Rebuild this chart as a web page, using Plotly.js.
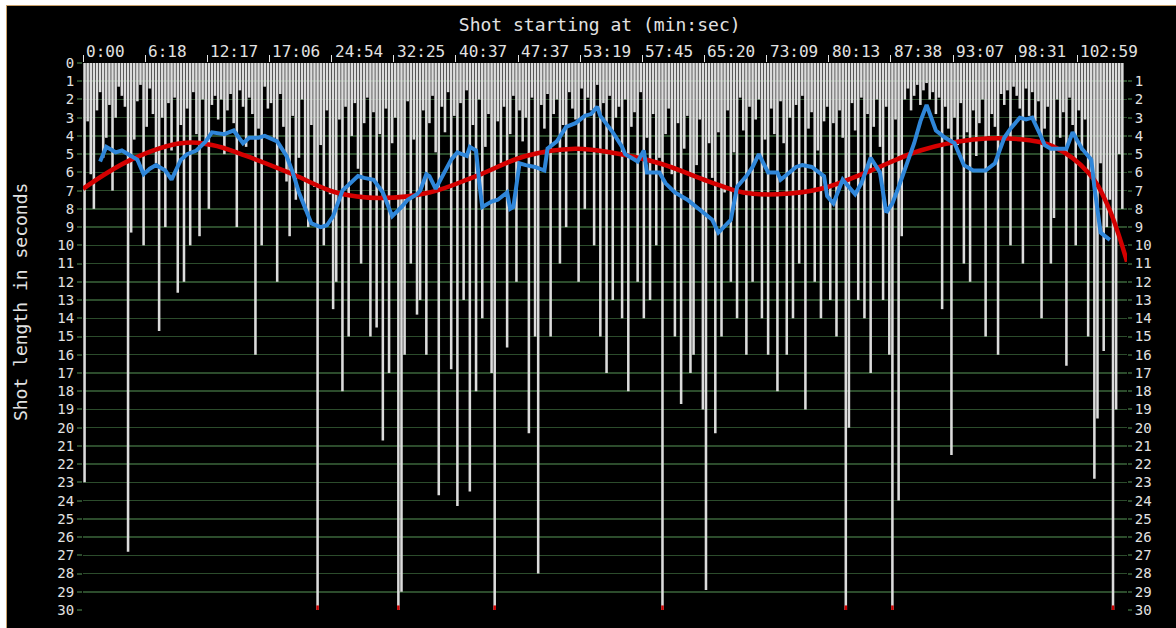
<!DOCTYPE html>
<html>
<head>
<meta charset="utf-8">
<script src="https://cdn.plot.ly/plotly-3.0.1.min.js"></script>
<style>
  html, body { margin: 0; padding: 0; background: #ffffff; width: 1176px; height: 628px; overflow: hidden; }
  #wrap { position: absolute; left: 6px; top: 5px; border-left: 1px solid #c9a06a; border-top: 1px solid #c9a06a; background: #000; }
  #chart { width: 1169px; height: 622px; }
</style>
</head>
<body>
<div id="wrap"><div id="chart"></div></div>
<script>
// ---- data ----
const tickShotIndex = [0, 20, 40, 60, 80, 100, 120, 140, 160, 180, 200, 220, 240, 260, 280, 300, 320];
const tickLabels = ["0:00", "6:18", "12:17", "17:06", "24:54", "32:25", "40:37", "47:37", "53:19",
                    "57:45", "65:20", "73:09", "80:13", "87:38", "93:07", "98:31", "102:59"];

const shotLengths = [
  23, 3.2, 6.1, 8.0, 2.6, 1.6, 5.2, 4.1, 2.3, 7.0, 3.0, 1.3, 1.8, 2.4, 26.8, 9.3, 4.2, 2.1, 1.2, 10.0,
  3.5, 1.4, 2.8, 5.5, 14.7, 3.0, 9.0, 2.2, 4.8, 1.9, 12.6, 3.4, 12.0, 2.5, 10.0, 1.6, 3.9, 9.5, 2.0, 4.5,
  8.0, 2.3, 1.8, 3.1, 2.0, 5.0, 2.6, 1.7, 3.3, 9.0, 1.5, 2.4, 4.6, 1.9, 2.8, 16.0, 3.6, 10.0, 1.3, 2.5,
  2.2, 4.1, 12.0, 1.7, 3.5, 6.5, 9.5, 2.9, 7.5, 5.2, 2.0, 8.1, 9.0, 3.4, 6.8, 36, 4.5, 10.0, 2.6, 7.2,
  13.5, 12.0, 3.1, 18.0, 2.4, 15.0, 4.0, 2.2, 5.8, 11.0, 3.3, 1.9, 15.0, 2.7, 14.5, 3.9, 20.7, 2.5, 17.0, 4.4,
  3.0, 33, 29.0, 16.0, 2.1, 11.0, 4.2, 13.8, 13.0, 2.6, 16.0, 3.3, 1.8, 4.9, 23.7, 2.4, 3.8, 1.6, 16.8, 2.9,
  24.3, 2.2, 13.0, 1.5, 23.5, 3.4, 18.0, 2.0, 14.0, 4.6, 2.8, 17.0, 38, 3.2, 5.5, 2.4, 15.6, 3.9, 1.8, 12.0,
  2.6, 4.3, 3.0, 20.3, 1.9, 15.0, 28.0, 2.3, 3.6, 1.7, 15.0, 2.8, 2.0, 11.0, 3.4, 9.0, 1.6, 2.5, 3.1, 12.0,
  1.4, 8.0, 1.9, 2.6, 10.0, 1.2, 15.0, 2.2, 17.0, 1.8, 13.0, 3.0, 2.4, 14.0, 2.0, 18.0, 3.5, 2.7, 12.0, 1.6,
  14.0, 4.1, 13.0, 2.8, 10.0, 5.2, 34, 3.9, 2.5, 6.1, 15.0, 3.3, 18.7, 4.7, 2.9, 17.0, 16.0, 5.6, 3.1, 19.0,
  28.9, 4.4, 6.3, 20.3, 3.8, 15.0, 7.1, 2.6, 12.0, 4.9, 14.0, 1.9, 3.7, 16.0, 2.4, 12.0, 3.1, 2.0, 14.0, 4.2,
  16.0, 2.5, 3.9, 18.0, 2.1, 4.4, 16.0, 3.0, 14.0, 2.3, 11.0, 1.8, 19.0, 3.6, 2.7, 12.0, 4.8, 14.0, 3.2, 2.4,
  13.0, 3.3, 15.0, 2.6, 4.1, 35, 20.0, 2.2, 3.7, 13.0, 1.9, 14.0, 2.8, 17.0, 3.5, 2.0, 4.6, 13.0, 2.4, 16.0,
  40, 3.1, 24.0, 9.5, 2.0, 1.4, 2.6, 1.8, 1.2, 2.3, 1.5, 1.1, 2.0, 1.6, 2.8, 1.9, 13.5, 2.4, 3.6, 21.5,
  3.0, 4.5, 2.2, 11.0, 3.8, 12.0, 2.6, 5.1, 3.3, 2.0, 15.0, 4.0, 2.8, 3.5, 16.0, 1.7, 2.3, 1.5, 10.0, 1.3,
  1.8, 2.5, 11.0, 1.4, 2.9, 1.6, 3.2, 2.1, 14.0, 3.6, 2.4, 11.0, 8.5, 2.0, 4.1, 2.7, 16.6, 1.9, 3.4, 10.0,
  2.6, 4.8, 3.1, 15.0, 6.0, 22.8, 19.5, 5.5, 15.8, 9.0, 7.5, 37, 19.0, 5.0, 8.0
];

const avgIdx = [5, 7, 10, 12, 15, 17, 19, 21, 23, 26, 28, 31, 33, 36, 39, 41, 45, 48, 51, 53, 56, 58, 62, 65, 67, 69,
  73, 76, 78, 80, 83, 86, 88, 90, 93, 96, 99, 102, 104, 107, 108, 110, 111, 113, 116, 118, 120, 123, 124, 126, 127,
  128, 131, 133, 136, 137, 138, 140, 142, 145, 148, 149, 152, 155, 158, 161, 163, 165, 166, 170, 173, 174, 178, 180,
  181, 185, 187, 190, 194, 197, 199, 202, 204, 208, 210, 213, 215, 217, 220, 223, 224, 229, 231, 234, 238, 239, 241,
  244, 248, 250, 253, 256, 258, 260, 262, 265, 267, 269, 271, 274, 277, 280, 283, 286, 290, 293, 296, 298, 301, 303,
  305, 308, 309, 311, 316, 318, 321, 324, 325, 327, 330];
const avgVal = [5.4, 4.6, 4.9, 4.8, 5.1, 5.3, 6.1, 5.8, 5.6, 5.9, 6.4, 5.3, 5.0, 4.8, 4.3, 3.8, 3.9, 3.7, 4.4, 4.1, 4.1,
  4.0, 4.3, 5.1, 6.0, 7.1, 8.8, 9.0, 8.9, 8.4, 7.0, 6.5, 6.2, 6.3, 6.4, 7.1, 8.4, 7.9, 7.5, 7.2, 7.0, 6.1, 6.2, 6.9,
  5.9, 5.3, 4.9, 5.1, 4.6, 4.8, 6.5, 7.9, 7.6, 7.5, 7.1, 8.0, 7.9, 5.5, 5.6, 5.7, 5.9, 4.7, 4.3, 3.5, 3.3, 2.9, 2.8,
  2.4, 2.9, 3.8, 4.6, 5.0, 5.4, 4.8, 6.0, 6.0, 6.6, 7.1, 7.5, 7.9, 8.2, 8.6, 9.3, 8.6, 6.8, 6.2, 5.7, 5.0, 6.0, 6.0,
  6.4, 5.7, 5.6, 5.7, 6.2, 7.3, 7.7, 6.4, 7.2, 6.6, 5.2, 6.0, 8.2, 7.7, 6.8, 5.4, 4.4, 3.2, 2.3, 3.7, 4.1, 4.4, 5.6,
  5.9, 5.9, 5.5, 4.1, 3.6, 3.0, 3.1, 3.0, 4.1, 4.5, 4.7, 4.7, 3.8, 4.7, 5.3, 6.8, 9.3, 9.7];

const trendIdx = [-0.5, 15, 31, 41, 52, 67, 81, 95, 111, 126, 142, 158, 169, 185, 201, 212, 223, 237, 253, 269, 286,
  302, 312, 323, 329, 335.5];
const trendVal = [6.9, 5.3, 4.4, 4.5, 5.1, 6.1, 7.1, 7.4, 7.1, 6.2, 5.1, 4.7, 4.9, 5.5, 6.5, 7.1, 7.2, 6.9, 5.9, 4.8,
  4.2, 4.2, 4.6, 6.0, 7.7, 10.9];

// ---- chart ----
const AX_MAX = 30;
const BAR_W = 0.82;
const shotIdx = shotLengths.map((_, i) => i);
const clippedIdx = shotIdx.filter(i => shotLengths[i] > AX_MAX);

const textCol = '#e2e2e2';
const gridCol = '#2c4c2c';
const mono = 'DejaVu Sans Mono, Liberation Mono, monospace';

const traces = [
  { type: 'bar', x: shotIdx, y: shotLengths, base: 0, width: BAR_W, marker: { color: '#dcdcdc', line: { width: 0 } },
    hoverinfo: 'skip', xaxis: 'x', yaxis: 'y' },
  { type: 'scatter', mode: 'lines', x: trendIdx, y: trendVal, line: { color: '#d40000', width: 4.5, shape: 'spline', smoothing: 1.1 },
    hoverinfo: 'skip', xaxis: 'x', yaxis: 'y' },
  { type: 'scatter', mode: 'lines', x: avgIdx, y: avgVal, line: { color: '#2f86d9', width: 4 },
    hoverinfo: 'skip', xaxis: 'x', yaxis: 'y' },
  { type: 'bar', x: clippedIdx, y: clippedIdx.map(() => 0.25), base: clippedIdx.map(() => AX_MAX - 0.25),
    width: BAR_W, marker: { color: '#cc0000', line: { width: 0 } }, hoverinfo: 'skip', xaxis: 'x', yaxis: 'y2' }
];

const annotations = tickShotIndex.map((t, k) => ({
  x: t - 0.5, xref: 'x', y: 1, yref: 'paper', xanchor: 'left', yanchor: 'bottom',
  xshift: 1, yshift: 0, showarrow: false, text: tickLabels[k],
  font: { family: mono, size: 16, color: textCol }
}));
annotations.push({
  x: -0.0603, xref: 'paper', y: 0.563, yref: 'paper', xanchor: 'center', yanchor: 'middle',
  textangle: -90, showarrow: false, text: 'Shot length in seconds',
  font: { family: mono, size: 18, color: textCol }
});

const yTicks = Array.from({ length: AX_MAX + 1 }, (_, i) => i);

const layout = {
  width: 1169, height: 622,
  margin: { l: 76, r: 49, t: 57, b: 18, pad: 0 },
  paper_bgcolor: '#000000', plot_bgcolor: '#000000',
  showlegend: false, barmode: 'overlay',
  title: { text: 'Shot starting at (min:sec)', xref: 'container', x: 0.507, xanchor: 'center',
           yref: 'container', y: 0.9695, yanchor: 'middle', font: { family: mono, size: 18, color: textCol } },
  xaxis: { side: 'top', range: [-0.5, shotLengths.length + 0.5], tickmode: 'array',
           tickvals: tickShotIndex.map(t => t - 0.5), showticklabels: false,
           ticks: 'outside', ticklen: 7, tickwidth: 1, tickcolor: textCol,
           showgrid: false, zeroline: false, showline: false, fixedrange: true },
  yaxis: { range: [AX_MAX, 0], tickmode: 'array', tickvals: yTicks, ticktext: yTicks.map(String),
           ticks: 'outside', ticklen: 5, tickwidth: 2, tickcolor: gridCol,
           showgrid: true, gridcolor: gridCol, gridwidth: 1.5, zeroline: false, showline: false,
           tickfont: { family: mono, size: 14, color: textCol }, fixedrange: true },
  yaxis2: { overlaying: 'y', side: 'right', range: [AX_MAX, 0], tickmode: 'array',
            tickvals: yTicks.slice(1), ticktext: yTicks.slice(1).map(String),
            ticks: 'outside', ticklen: 4, tickwidth: 2, tickcolor: gridCol,
            showgrid: false, zeroline: false, showline: false,
            tickfont: { family: mono, size: 14, color: textCol }, fixedrange: true },
  annotations: annotations
};

Plotly.newPlot('chart', traces, layout, { displayModeBar: false, staticPlot: true });
</script>
</body>
</html>
